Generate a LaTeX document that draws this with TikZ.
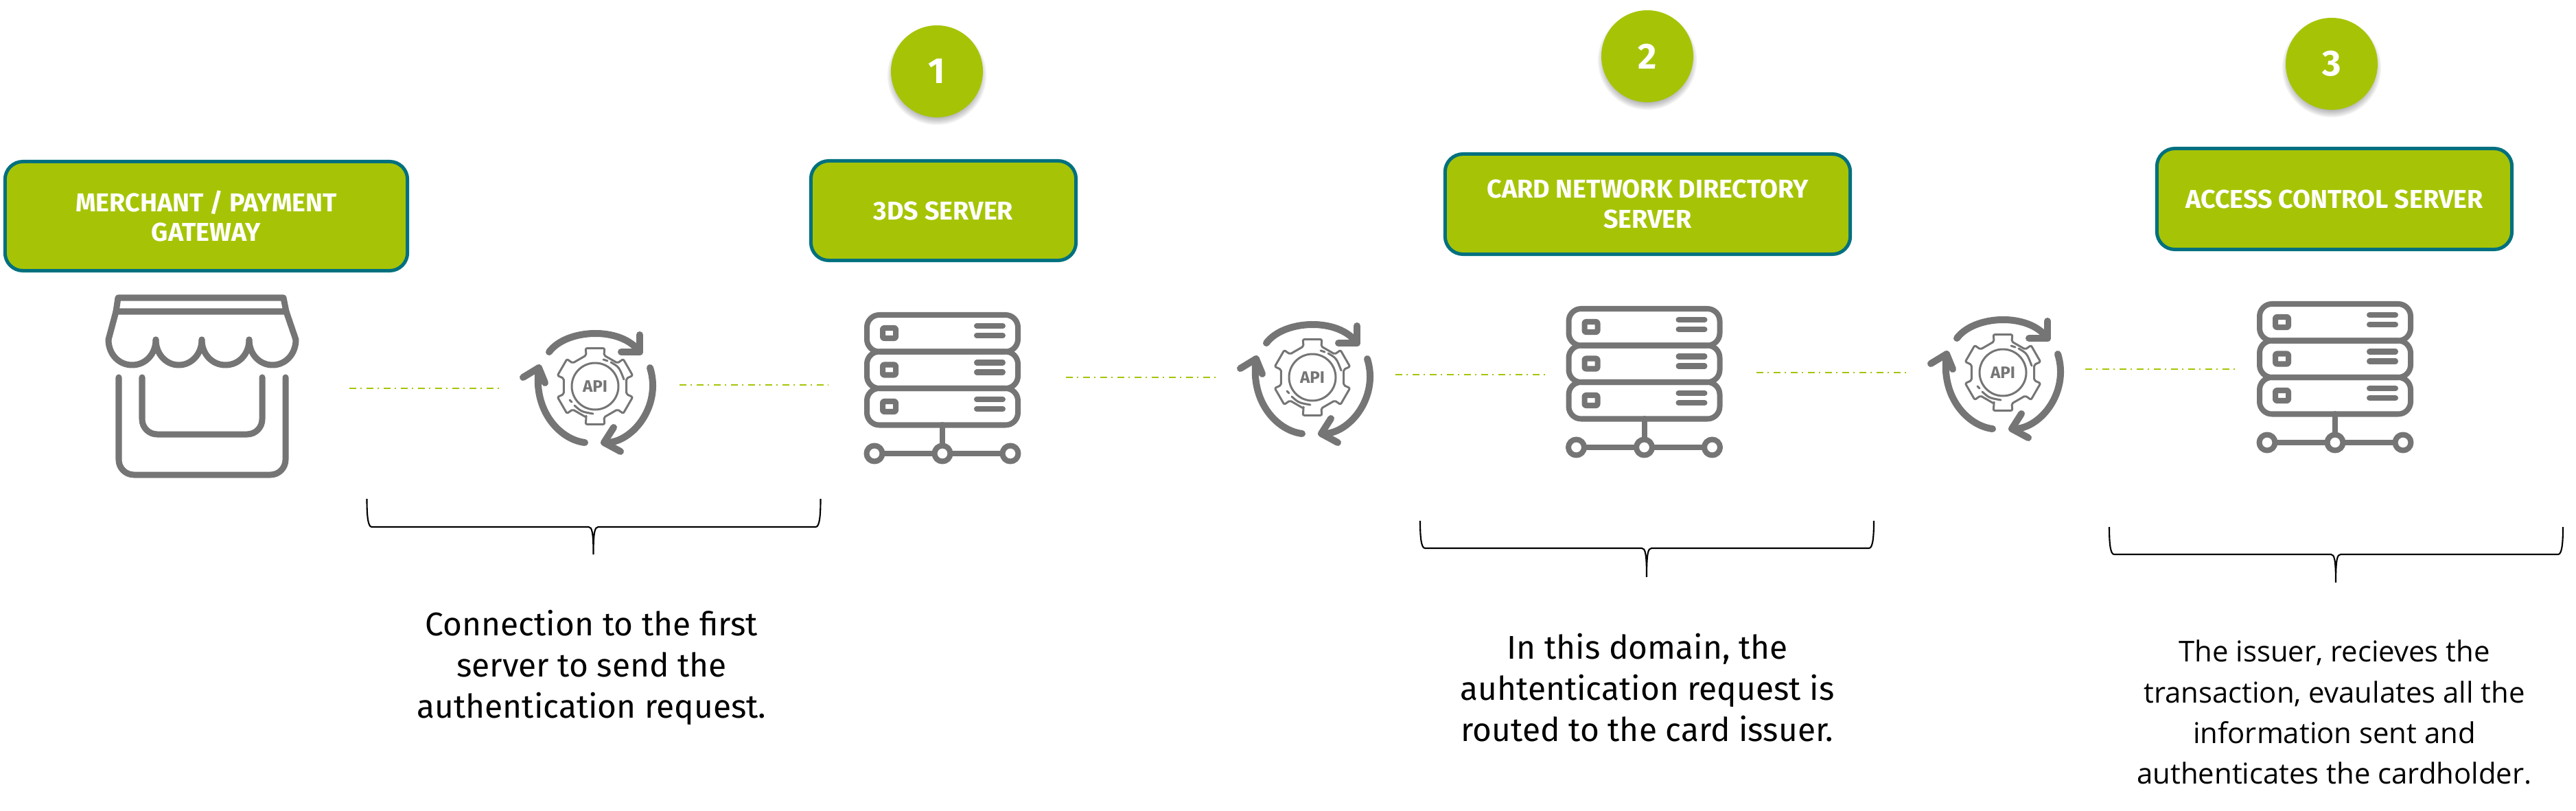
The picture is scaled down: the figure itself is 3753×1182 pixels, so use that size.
\documentclass[tikz,border=0pt]{standalone}
\usepackage{fontspec}
\usepackage{xcolor}
\setmainfont{Fira Sans}
\newfontfamily\issuerfont{Open Sans}
\usetikzlibrary{calc}
\definecolor{lime}{HTML}{A6C405}
\definecolor{teal}{HTML}{00707F}
\definecolor{icongray}{HTML}{757575}
\tikzset{
  hdr/.style={draw=teal, fill=lime, line width=0.05cm, rounded corners=0.26cm, align=center, text=white, inner sep=0pt, font=\fontsize{10.7}{12.3}\selectfont\bfseries},
  stp/.style={circle, fill=lime, text=white, minimum size=1.34cm, inner sep=0pt, font=\fontsize{15}{18}\selectfont\bfseries},
  lab/.style={align=center, text=black, inner sep=0pt, font=\fontsize{13.6}{17}\selectfont},
  labb/.style={align=center, text=black, inner sep=0pt, font=\fontsize{11.9}{16.8}\selectfont\issuerfont},
  apilab/.style={text=icongray, inner sep=0pt, font=\fontsize{6.9}{8}\selectfont\bfseries},
  icon/.style={draw=icongray, line width=0.08cm, line cap=round, line join=round},
  fine/.style={draw=icongray, line width=0.03cm, line cap=round, line join=round},
  link/.style={draw=lime, line width=0.025cm, dash pattern=on 0.10cm off 0.06cm on 0.02cm off 0.07cm},
  brc/.style={draw=black, line width=0.6pt},
  apiicon/.pic={
    \draw[icon,line width=0.1cm] (-67,-50) .. controls (-42,-84) and (38,-88) .. (65,-50);
    \draw[icon,line width=0.1cm] (65,-75) -- (65,-50) -- (38,-50);
    \draw[icon,line width=0.1cm] (80,-27) .. controls (98,30) and (52,85) .. (13,82);
    \draw[icon,line width=0.1cm] (27,60) -- (13,82) -- (37,95);
    \draw[icon,line width=0.1cm] (-15,82) .. controls (-50,78) and (-91,37) .. (-82,-27);
    \draw[icon,line width=0.1cm] (-105,-13) -- (-82,-27) -- (-73,-5);
    % gear with six teeth
    \draw[fine,rounded corners=0.02cm] (106:47) \foreach \a in {90,30,-30,-90,-150,-210} {
      -- ($(\a+16:47)$) -- ($(\a+14:57)$) -- ($(\a-14:57)$) -- ($(\a-16:47)$)} -- cycle;
    \draw[fine] (0,0) circle (34);
    \draw[fine] (23,-35) .. controls (35,-28) .. (42,-10);
    \draw[fine] (12,-39) -- (18,-37);
    \draw[fine] (-30,28) .. controls (-20,37) .. (-3,40);
    \draw[fine] (-37,20) -- (-34,23);
    \node[apilab] (-txt) at (0,0) {API};
  },
  rackicon/.pic={
    \foreach \k in {0,1,2} {
      \draw[icon,rounded corners=0.18cm] (-110,{4+\k*53.5}) rectangle (110,{57.5+\k*53.5});
      \draw[icon,rounded corners=0.02cm] (-87,{23+\k*53.5}) rectangle (-68,{38+\k*53.5});
      \draw[icon] (50,{20+\k*53.5}) -- (88,{20+\k*53.5});
      \draw[icon] (50,{34+\k*53.5}) -- (88,{34+\k*53.5});
    }
    \draw[icon] (0,164) -- (0,206);
    \draw[icon] (-99,206) -- (99,206);
    \foreach \k in {-99,0,99} {
      \draw[icon,fill=white] (\k,206) circle (11.5);
    }
  },
}
\newcommand{\bracedown}[6]{
  \draw[brc] (#1,#4) .. controls (#1,{#5-20}) and ({#1+1},#5) .. ({#1+7},#5) -- ({#3-7},#5)
    .. controls ({#3-2},#5) and (#3,{#5+8}) .. (#3,#6)
    .. controls (#3,{#5+8}) and ({#3+2},#5) .. ({#3+7},#5) -- ({#2-7},#5)
    .. controls ({#2-1},#5) and (#2,{#5-20}) .. (#2,#4);
}
\begin{document}
\begin{tikzpicture}[x=0.01cm,y=-0.01cm]
  \useasboundingbox (0,0) rectangle (3753,1182);
  % header boxes
  \node[hdr,minimum width=5.86cm,minimum height=1.59cm] (merchant) at (300.5,315) {MERCHANT / PAYMENT\\GATEWAY};
  \node[hdr,minimum width=3.86cm,minimum height=1.45cm] (threeds) at (1374.5,307) {3DS SERVER};
  \node[hdr,minimum width=5.90cm,minimum height=1.46cm] (network) at (2400.5,297.5) {CARD NETWORK DIRECTORY\\SERVER};
  \node[hdr,minimum width=5.17cm,minimum height=1.47cm] (access) at (3401,290) {ACCESS CONTROL SERVER};
  % numbered dots, shadow first
  \foreach \n/\cx/\cy/\t in {one/1365/104/1,two/2400/82/2,three/3397/93/3} {
    \foreach \r in {58,60,...,72} {
      \fill[black,opacity=0.055] (\cx,\cy+6) circle (\r);
    }
    \node[stp] (\n) at (\cx,\cy) {\t};
  }
  % shop
  \draw[icon,line width=0.09cm] (172,434) -- (413,434) -- (417,454) -- (169,454) -- cycle;
  \draw[icon,line width=0.09cm] (169,454) -- (158,495);
  \draw[icon,line width=0.09cm] (417,454) -- (431,495);
  \foreach \a/\b in {158/227,227/294,294/363,363/431} {
    \draw[icon,line width=0.09cm] (\a,495) .. controls (\a,516) and ({\a+15},532) .. ({(\a+\b)/2},532)
      .. controls ({\b-15},532) and (\b,516) .. (\b,495);
  }
  \draw[icon,line width=0.09cm,rounded corners=0.22cm] (173,550) -- (173,692) -- (416,692) -- (416,550);
  \draw[icon,line width=0.09cm,rounded corners=0.22cm] (207,550) -- (207,633) -- (382,633) -- (382,550);
  % api icons and racks
  \pic (apione) at (867,563) {apiicon};
  \pic (apitwo) at (1912,550) {apiicon};
  \pic (apithree) at (2918,543) {apiicon};
  \pic (rackone) at (1373,455) {rackicon};
  \pic (racktwo) at (2395.5,446) {rackicon};
  \pic (rackthree) at (3402,439) {rackicon};
  % links
  \foreach \n/\xa/\xb/\yy in {a/509/731/566,b/990/1207/561,c/1553/1774/550,d/2033/2253/546,e/2559/2780/543,f/3038/3259/538} {
    \coordinate (\n0) at (\xa,\yy);
    \coordinate (\n1) at (\xb,\yy);
    \draw[link] (\n0) -- (\n1);
  }
  % braces
  \bracedown{534.5}{1195.5}{864.5}{727}{768}{808}
  \bracedown{2069}{2730}{2399}{759}{799}{841}
  \bracedown{3073}{3734}{3403}{768}{808}{849}
  % captions
  \node[lab] (capone) at (862,973) {Connection to the first\\server to send the\\authentication request.};
  \node[lab] (captwo) at (2400,1002) {In this domain, the\\auhtentication request is\\routed to the card issuer.};
  \node[labb] (capthree) at (3401,1038) {The issuer, recieves the\\transaction, evaulates all the\\information sent and\\authenticates the cardholder.};
\end{tikzpicture}
\end{document}
